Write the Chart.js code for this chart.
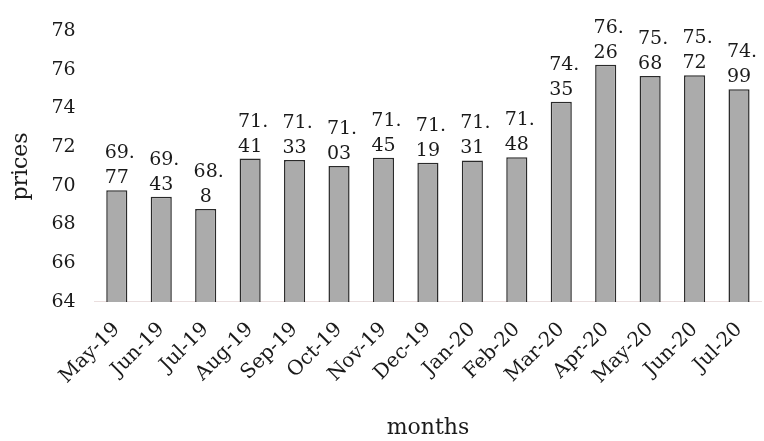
<!DOCTYPE html>
<html><head><meta charset="utf-8">
<script src="https://cdn.jsdelivr.net/npm/chart.js@4"></script>
<style>html,body{margin:0;padding:0;background:#fff}#wrap{width:764px;height:441px}</style>
</head><body><div id="wrap"><canvas id="c" width="764" height="441"></canvas></div>
<script>
const categories = ["May-19","Jun-19","Jul-19","Aug-19","Sep-19","Oct-19","Nov-19","Dec-19","Jan-20","Feb-20","Mar-20","Apr-20","May-20","Jun-20","Jul-20"];
const prices = [69.77,69.43,68.8,71.41,71.33,71.03,71.45,71.19,71.31,71.48,74.35,76.26,75.68,75.72,74.99];
const yTicks = [64,66,68,70,72,74,76,78];

const FONT = "'DejaVu Serif','Liberation Serif',serif";

const labelPlugin = {
  id: 'splitLabels',
  afterDatasetsDraw(chart) {
    const ctx = chart.ctx;
    const meta = chart.getDatasetMeta(0);
    ctx.save();
    ctx.font = "19px " + FONT;
    ctx.fillStyle = "#1a1a1a";
    ctx.textAlign = "center";
    ctx.textBaseline = "alphabetic";
    meta.data.forEach((bar, i) => {
      const s = String(prices[i]);
      const parts = s.split('.');
      const l1 = parts[0] + '.';
      const l2 = parts[1] || '';
      ctx.fillText(l2, bar.x, bar.y - 7);
      ctx.fillText(l1, bar.x + 3, bar.y - 32);
    });
    ctx.restore();
  }
};

new Chart(document.getElementById('c'), {
  type: 'bar',
  data: {
    labels: categories,
    datasets: [{
      data: prices,
      backgroundColor: '#ababab',
      borderColor: '#2a2a2a',
      borderWidth: 1.5,
      borderSkipped: false,
      barPercentage: 0.95,
      categoryPercentage: 0.5
    }]
  },
  options: {
    responsive: false,
    animation: false,
    layout: { padding: { top: 31, left: 8, right: 0, bottom: 0 } },
    plugins: { legend: { display: false }, tooltip: { enabled: false } },
    scales: {
      x: {
        grid: { display: false },
        border: { display: true, color: '#eadede', width: 1 },
        ticks: { color: '#1a1a1a', font: { family: FONT, size: 20 }, minRotation: 45, maxRotation: 45, padding: 8 },
        title: { display: true, text: 'months', color: '#1a1a1a', font: { family: FONT, size: 22 }, padding: { top: 18, bottom: 0 } }
      },
      y: {
        min: 64, max: 78,
        afterBuildTicks(axis) { axis.ticks = yTicks.map(v => ({ value: v })); },
        grid: { display: false },
        border: { display: false },
        ticks: { color: '#1a1a1a', font: { family: FONT, size: 19 }, padding: 11 },
        title: { display: true, text: 'prices', color: '#1a1a1a', font: { family: FONT, size: 22 }, padding: { top: 0, bottom: 6 } }
      }
    }
  },
  plugins: [labelPlugin]
});
</script></body></html>
